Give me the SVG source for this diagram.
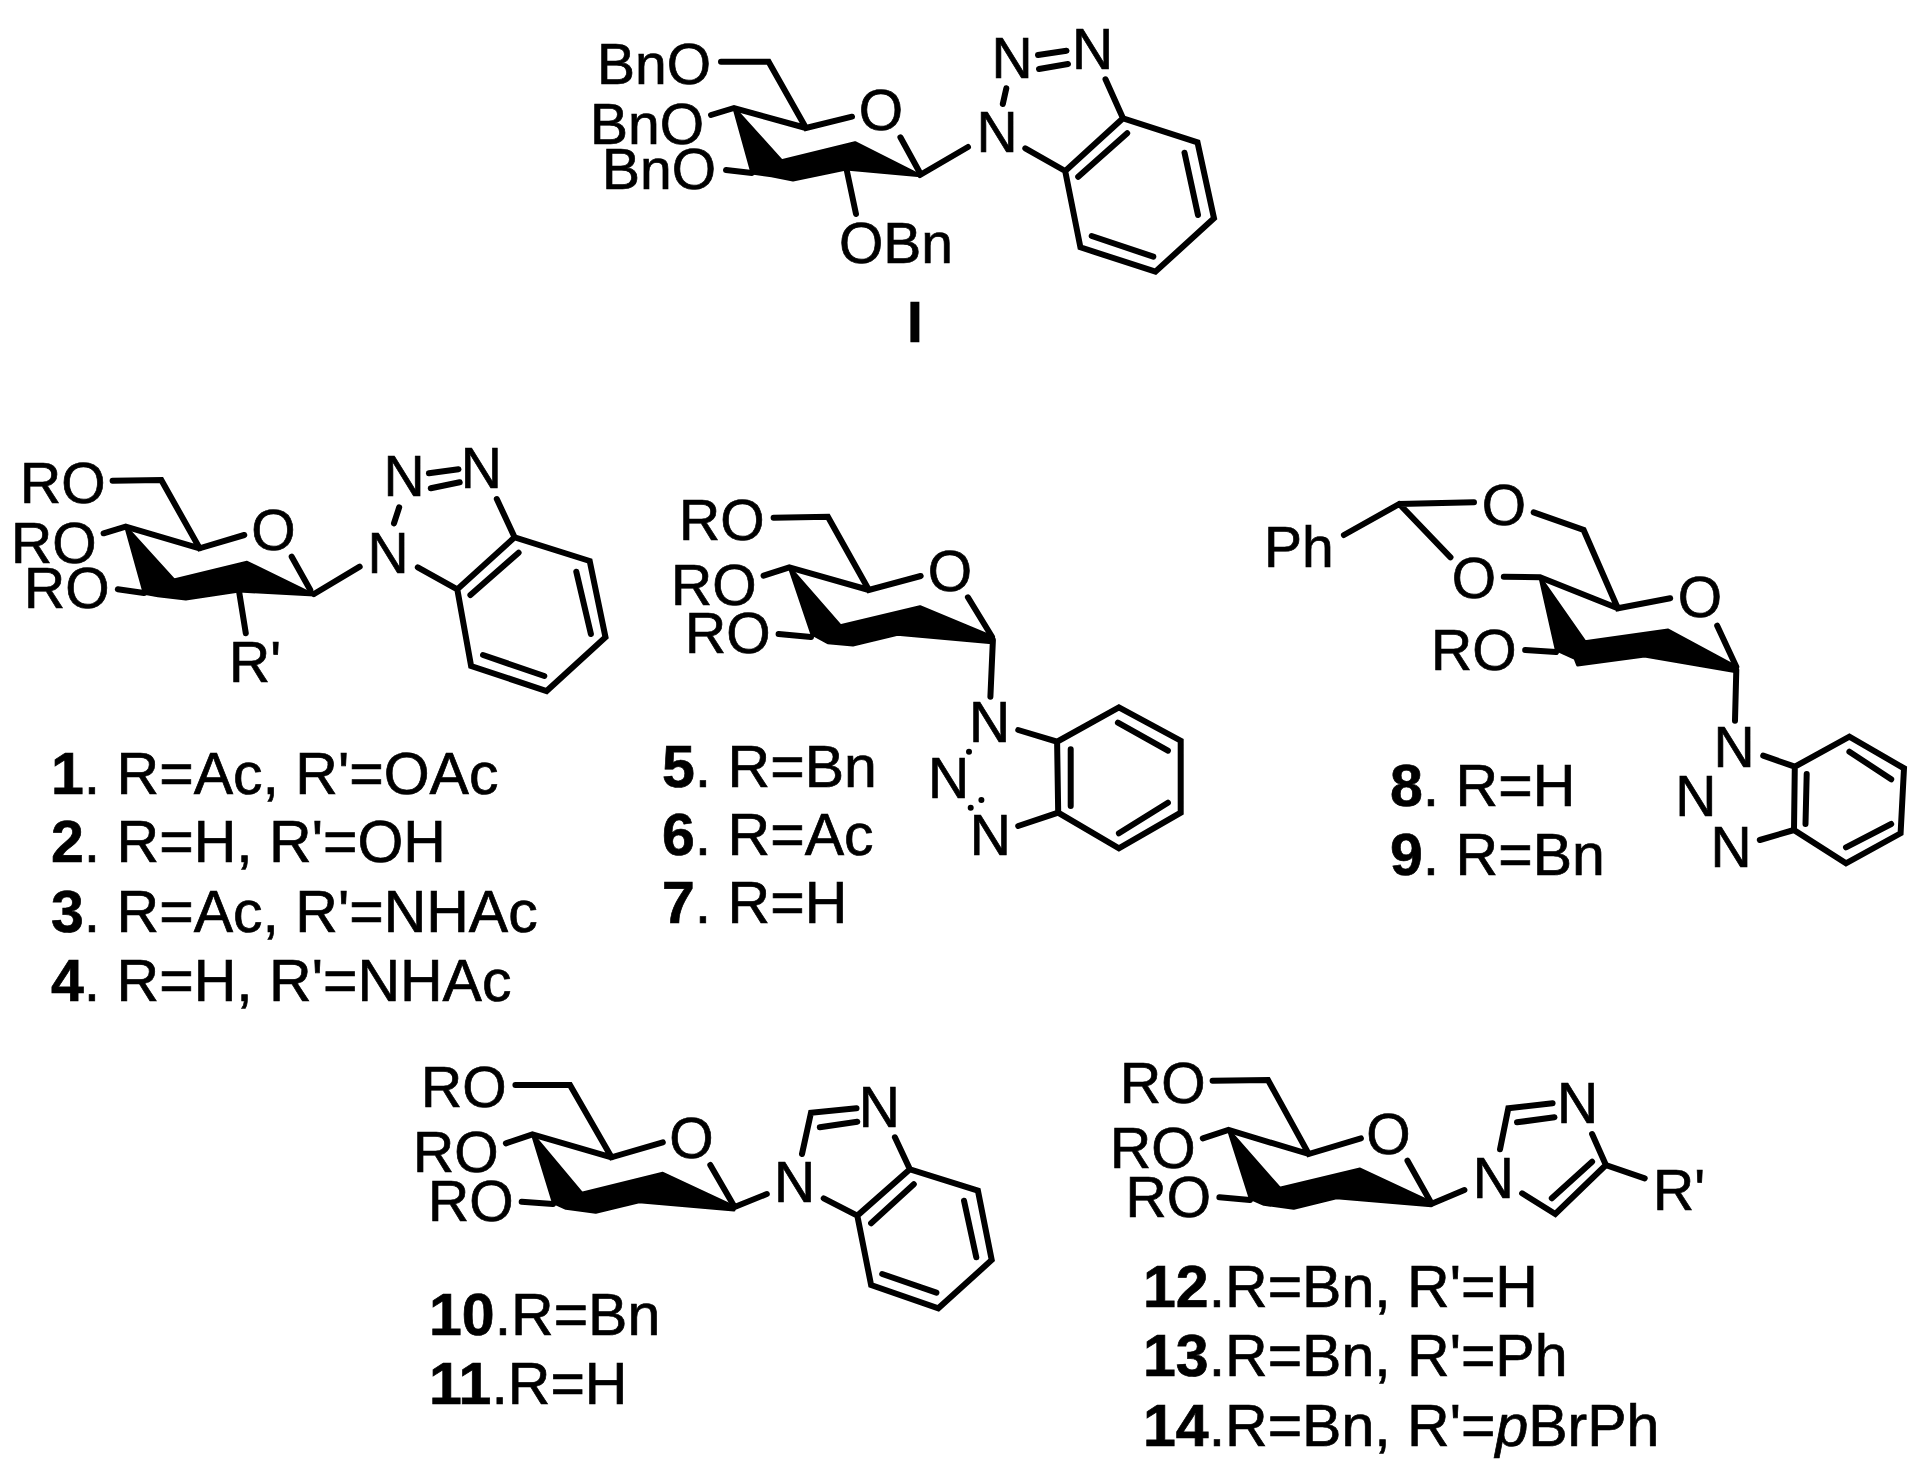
<svg xmlns="http://www.w3.org/2000/svg" width="1919" height="1476" viewBox="0 0 1919 1476">
<style>
text{font-family:"Liberation Sans",Arial,sans-serif;fill:#000;stroke:#000;stroke-width:.7}
.a{font-size:57px}
.c{font-size:57px;text-anchor:middle}
.l{font-size:59px}
.b{font-weight:bold}
.bond{fill:none;stroke:#000;stroke-width:6;stroke-linecap:round;stroke-linejoin:miter}
.w{fill:#000;stroke:#000;stroke-width:3;stroke-linejoin:round}
</style>
<rect width="1919" height="1476" fill="#fff"/>
<g id="compound-I">
<polygon class="w" points="734,108 781.6,160.7 855,142.7 920.4,175.7 846,169 793,180 771.6,175.7 752,173"/>
<path class="bond" d="M721,61.7H768.6L806,128L852,116.7M711,115L734,108L806,128M900.4,137.3L920,173M726,170L752,173M846.7,170L856,214M920,175L968,147M1006.3,88.3L1002.8,104M1038,55L1066.5,50.7M1039,69L1068,64M1105.5,79.3L1123,118.3L1197.5,142.3L1214,218.3L1155.4,271.7L1080.4,247.3L1065.2,171L1123,118.3M1127.2,133.3L1078.2,176.7M1184.5,152.7L1198,215M1153.3,256.7L1091.7,236M1025.3,148.3L1065.2,171"/>
<text class="a" x="597" y="84">BnO</text><text class="a" x="590" y="144">BnO</text><text class="a" x="602" y="189">BnO</text>
<text class="a" x="839" y="263">OBn</text><text class="c" x="881" y="130">O</text>
<text class="c" x="997" y="152">N</text><text class="c" x="1012" y="77.7">N</text><text class="c" x="1092.5" y="69">N</text>
<text class="c b" x="915" y="342" style="font-size:57px">I</text>
</g>
<g id="compound-1-4">
<polygon class="w" points="125.7,526.7 174,580 247,562.3 314.2,595 239,591 185.8,599 158,595.7 144.3,593.3"/>
<path class="bond" d="M112.6,480.7L161.3,480L199.6,548.3L244.3,535M103.6,533.3L125.7,526.7L199.6,548.3M291.7,556.7L310.3,590M117.8,589.3L144,593M239,591L245.8,633.3M314,594L359.7,566.7M399.2,507.3L394,523.3M428.9,473.3L458.5,469.3M430.8,488.3L459.7,482.3M496.8,499L514.6,537.3L589.7,561L605.5,637.3L546.6,691L471.1,666L457.3,589.3L514.6,537.3M518.6,552.7L470.4,595M576.3,571.7L590.9,634M544.3,676L483,655M417.8,567.3L457.3,589.3"/>
<text class="a" x="20" y="502.7">RO</text><text class="a" x="11" y="563.3">RO</text><text class="a" x="24" y="608.3">RO</text>
<text class="c" x="273.5" y="550">O</text><text class="a" x="229" y="681.7">R'</text>
<text class="c" x="388" y="572.7">N</text><text class="c" x="404" y="496">N</text><text class="c" x="481.4" y="488.3">N</text>
<text class="l" x="51" y="794"><tspan class="b">1</tspan>. R=Ac, R'=OAc</text>
<text class="l" x="51" y="862"><tspan class="b">2</tspan>. R=H, R'=OH</text>
<text class="l" x="51" y="932"><tspan class="b">3</tspan>. R=Ac, R'=NHAc</text>
<text class="l" x="51" y="1001"><tspan class="b">4</tspan>. R=H, R'=NHAc</text>
</g>
<g id="compound-5-7">
<polygon class="w" points="789.3,567.3 840.4,625.7 920,606.7 992,636.7 992,642.7 897.5,634.3 852.9,645 827.9,642.7 811.8,634"/>
<path class="bond" d="M773.6,517.7L827.9,516.7L868.9,590L920.7,576M763.6,575.7L789.3,567.3L868.9,590M967.9,597.3L992,636.7M778.6,634L811,637M992.9,640L990.4,696.7M1018.2,730L1057.1,741.7L1118.9,707.3L1180.7,740.7V812.7L1118.9,848.3L1058.2,812.7L1057.1,741.7M1070.7,749.3V806M1117.9,722.7L1167.9,750.7M1118.9,833.3L1167.9,802.7M1018.2,826L1058.2,812.7"/>
<circle cx="969" cy="751.7" r="3"/><circle cx="981.4" cy="800" r="3"/><circle cx="970.7" cy="807.7" r="3"/>
<text class="a" x="679" y="540">RO</text><text class="a" x="671" y="605">RO</text><text class="a" x="685" y="653.3">RO</text>
<text class="c" x="950" y="590.7">O</text>
<text class="c" x="989.6" y="741.7">N</text><text class="c" x="948.6" y="798.3">N</text><text class="c" x="990.4" y="855">N</text>
<text class="l" x="662" y="786.7"><tspan class="b">5</tspan>. R=Bn</text>
<text class="l" x="662" y="855"><tspan class="b">6</tspan>. R=Ac</text>
<text class="l" x="662" y="923"><tspan class="b">7</tspan>. R=H</text>
</g>
<g id="compound-8-9">
<polygon class="w" points="1540,577.3 1584.9,641.7 1668.1,630 1736.3,666.7 1736.3,671.7 1644.6,656 1577.6,665 1575,658.3 1556.3,650"/>
<path class="bond" d="M1343.9,535L1399.3,504L1474,502.3M1399.3,504L1450.5,557.3M1533.7,512.3L1583.6,530L1617.8,608.3L1670.2,598.3M1503.8,576.7L1540,577.3L1617.8,608.3M1717.2,625.7L1736.3,666.7M1525.2,650L1556,652M1736.3,670L1735,720.7M1763.2,755.7L1794.8,766.7L1849.4,736.7L1904,768.3L1900.6,833.3L1846,863.3L1794,830L1794.8,766.7M1806.7,774L1805.5,824M1849.4,751.7L1891.2,779.3M1846,847.3L1891.2,824M1759.8,840L1794,830"/>
<text class="a" x="1264" y="567.3">Ph</text><text class="c" x="1503.8" y="525">O</text><text class="c" x="1474" y="598.3">O</text>
<text class="c" x="1700" y="617.3">O</text><text class="a" x="1431" y="670">RO</text>
<text class="c" x="1734.2" y="766.7">N</text><text class="c" x="1695.8" y="816">N</text><text class="c" x="1731.2" y="867.3">N</text>
<text class="l" x="1390" y="806"><tspan class="b">8</tspan>. R=H</text>
<text class="l" x="1390" y="875"><tspan class="b">9</tspan>. R=Bn</text>
</g>
<g id="compound-10-11">
<polygon class="w" points="532.4,1134.3 581.8,1193.3 662.8,1173.3 734,1206.7 734,1210 639.1,1201.7 595.7,1212.3 566,1208.3 553.4,1202.7"/>
<path class="bond" d="M515.4,1085H570L611.5,1157.3L662.8,1142.3M505.9,1143.3L532.4,1134.3L611.5,1157.3M710.3,1165L734,1206M521.7,1201.7L553,1204M734,1207.3L766.8,1194M802,1154L811,1112.7L856.5,1108.3M819.8,1127.3L857.3,1121.7M894.9,1137.3L909.9,1169.3L977.9,1190.7L991.7,1260L938.3,1308.3L871.1,1285L857.3,1215.7L909.9,1169.3M913.8,1184.3L871.1,1223.3M964,1200.7L976.3,1257.3M936.4,1292.7L882.2,1274M823.7,1198.3L857.3,1215.7"/>
<text class="a" x="421" y="1107.3">RO</text><text class="a" x="413" y="1171.7">RO</text><text class="a" x="428" y="1220.7">RO</text>
<text class="c" x="691.3" y="1158.3">O</text>
<text class="c" x="794.5" y="1202.3">N</text><text class="c" x="879.4" y="1127.3">N</text>
<text class="l" x="429" y="1335"><tspan class="b">10</tspan>.R=Bn</text>
<text class="l" x="429" y="1404"><tspan class="b">11</tspan>.R=H</text>
</g>
<g id="compound-12-14">
<polygon class="w" points="1228.5,1130 1279.8,1188.3 1360,1169 1431.2,1202.3 1431.2,1205.7 1336.4,1197.7 1293.7,1208.3 1264,1204.3 1250.2,1198.3"/>
<path class="bond" d="M1212.6,1080.7L1268,1080L1308.7,1154L1360.9,1138.3M1202.8,1138.3L1228.5,1130L1308.7,1154M1407.5,1160.7L1431.2,1203M1219.4,1197.3L1250,1200M1431.2,1204L1464.4,1190M1500,1149.3L1508.3,1108.3L1552.6,1103.3M1517,1122.3L1554.5,1117.3M1592.1,1134L1605.9,1165L1644.7,1178.3M1605.9,1165L1555.3,1214L1522.1,1193.3M1592.1,1161.7L1551.8,1198.3"/>
<text class="a" x="1120" y="1103.3">RO</text><text class="a" x="1110" y="1168.3">RO</text><text class="a" x="1125.5" y="1216.7">RO</text>
<text class="c" x="1388.5" y="1154.3">O</text>
<text class="c" x="1493.3" y="1198.3">N</text><text class="c" x="1577.5" y="1123.3">N</text><text class="a" x="1653" y="1210">R'</text>
<text class="l" x="1143" y="1307"><tspan class="b">12</tspan>.R=Bn, R'=H</text>
<text class="l" x="1143" y="1376"><tspan class="b">13</tspan>.R=Bn, R'=Ph</text>
<text class="l" x="1143" y="1446"><tspan class="b">14</tspan>.R=Bn, R'=<tspan font-style="italic">p</tspan>BrPh</text>
</g>
</svg>
